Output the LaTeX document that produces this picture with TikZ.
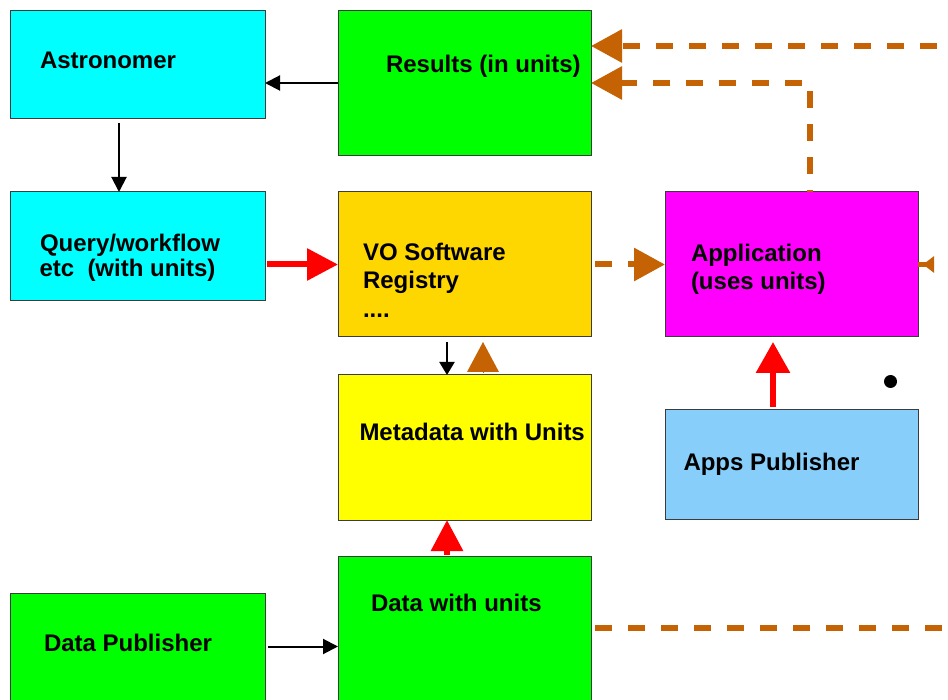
\documentclass[tikz,border=0pt]{standalone}
\usepackage{fontspec}
\setmainfont{Liberation Sans}
\usetikzlibrary{arrows.meta}
\definecolor{cyanbox}{RGB}{0,255,255}
\definecolor{greenbox}{RGB}{0,255,0}
\definecolor{goldbox}{RGB}{255,215,0}
\definecolor{yellowbox}{RGB}{255,255,0}
\definecolor{magentabox}{RGB}{255,0,255}
\definecolor{bluebox}{RGB}{135,206,250}
\definecolor{brownc}{RGB}{196,98,4}
\definecolor{bordergray}{RGB}{60,60,60}
\begin{document}
\begin{tikzpicture}[x=1pt,y=-1pt,
  panel/.style={draw=bordergray, line width=1pt, inner sep=0pt, outer sep=0pt},
  lbl/.style={anchor=base west, inner sep=0pt, outer sep=0pt, font=\fontsize{24}{25}\selectfont\bfseries},
  blackarr/.style={draw=black, line width=2pt, -{Triangle[length=15pt,width=15pt]}},
  redarr/.style={draw=red, line width=6pt, -{Triangle[length=31pt,width=31pt]}},
  brn/.style={draw=brownc, line width=6pt, dash pattern=on 17pt off 16pt},
  brnarr/.style={brn, -{Triangle[length=31pt,width=32pt]}},
]
\useasboundingbox (0,0) rectangle (948,700);
\clip (0,0) rectangle (948,700);
\fill[white] (0,0) rectangle (948,700);

% boxes
\node[panel, fill=cyanbox, minimum width=255pt, minimum height=108pt] (astro) at (137.5,65) {};
\node[panel, fill=greenbox, minimum width=253pt, minimum height=145pt] (results) at (464.5,83.5) {};
\node[panel, fill=cyanbox, minimum width=255pt, minimum height=109pt] (query) at (137.5,246.5) {};
\node[panel, fill=goldbox, minimum width=253pt, minimum height=145pt] (vo) at (464.5,264.5) {};
\node[panel, fill=magentabox, minimum width=253pt, minimum height=145pt] (app) at (791.5,264.5) {};
\node[panel, fill=yellowbox, minimum width=253pt, minimum height=145pt] (meta) at (464.5,447.5) {};
\node[panel, fill=bluebox, minimum width=253pt, minimum height=109pt] (apppub) at (791.5,464.5) {};
\node[panel, fill=greenbox, minimum width=253pt, minimum height=146pt] (data) at (464.5,629) {};
\node[panel, fill=greenbox, minimum width=255pt, minimum height=110pt] (datapub) at (137.5,648) {};

% labels
\node[lbl] (tastro) at (40,69) {Astronomer};
\node[lbl] (tresults) at (386,73) {Results (in units)};
\node[lbl] (tquery1) at (40,252) {Query/workflow};
\node[lbl] (tquery2) at (39.5,277) {etc\ \ (with units)};
\node[lbl] (tvo1) at (363,261) {VO Software};
\node[lbl] (tvo2) at (363,288.5) {Registry};
\node[lbl] (tvo3) at (363,318) {....};
\node[lbl] (tapp1) at (691,262) {Application};
\node[lbl] (tapp2) at (691,289.5) {(uses units)};
\node[lbl] (tmeta) at (359.5,440) {Metadata with Units};
\node[lbl] (tapppub) at (683.5,471) {Apps Publisher};
\node[lbl] (tdata) at (371,611) {Data with units};
\node[lbl] (tdatapub) at (44,651) {Data Publisher};

% dot
\node[circle, fill=black, inner sep=0pt, minimum size=13pt] (dot) at (890.5,381.5) {};

% outer coordinates
\coordinate (rin) at (948,46);
\coordinate (rapp) at (934,264.5);
\coordinate (rout) at (948,628);

% black arrows
\draw[blackarr] (results.west |- 0,83) -- (astro.east |- 0,83);
\draw[blackarr, shorten <=4pt] ([xshift=-18.5pt]astro.south) -- ([xshift=-18.5pt]query.north);
\draw[draw=black, line width=2pt, -{Triangle[length=13pt,width=15pt]}, shorten <=5pt] ([xshift=-17.5pt]vo.south) -- ([xshift=-17.5pt]meta.north);
\draw[blackarr, shorten <=3pt] (datapub.east |- 0,646.5) -- (data.west |- 0,646.5);

% red arrows
\draw[redarr, shorten <=2pt] (vo.west -| query.east) -- (vo.west);
\draw[redarr, shorten <=1pt] ([xshift=-17.5pt]data.north) -- ([xshift=-17.5pt]meta.south);
\draw[draw=red, line width=6pt, -{Triangle[length=31pt,width=33pt]}, shorten <=3pt, shorten >=5pt] ([xshift=-18.5pt]apppub.north) -- ([xshift=-18.5pt]app.south);

% brown arrows
\draw[brnarr, dash phase=22pt] (rin) -- (rin -| results.east);
\draw[brnarr, dash phase=15pt] ([xshift=18.5pt]app.north) |- (results.east |- 0,83);
\draw[brnarr, shorten <=4pt] (vo.east) -- (app.west);
\draw[draw=brownc, line width=0pt, -{Triangle[length=30pt,width=32pt]}, shorten <=2.5pt, shorten >=5pt] ([xshift=18.5pt]meta.north) -- ([xshift=18.5pt]vo.south);
\draw[draw=brownc, line width=5pt, -{Triangle[reversed,length=11pt,width=16pt]}] (app.east) -- (rapp);
\draw[brn, shorten <=4pt] (data.east |- rout) -- (rout);
\end{tikzpicture}
\end{document}
